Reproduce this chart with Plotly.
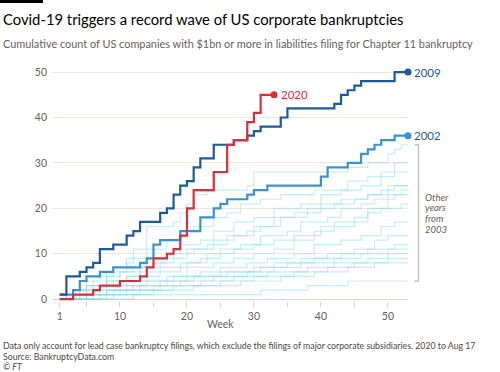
import plotly.graph_objects as go

# ---------------- data (week of year, cumulative count) ----------------
weeks_2020 = [1, 3, 6, 7, 10, 13, 14, 15, 17, 18, 19, 20, 21, 24, 26, 27, 29, 30, 31]
count_2020 = [0, 1, 2, 3, 4, 5, 7, 9, 10, 11, 14, 20, 24, 28, 34, 35, 39, 41, 45]
last_week_2020 = 33

weeks_2009 = [1, 2, 4, 5, 6, 7, 9, 11, 12, 13, 16, 17, 18, 19, 20, 21, 22, 24, 27, 29,
              30, 31, 34, 35, 42, 43, 44, 45, 46, 51]
count_2009 = [1, 5, 6, 7, 8, 11, 12, 14, 15, 17, 19, 20, 23, 25, 26, 29, 31, 34, 35, 36,
              37, 38, 40, 42, 43, 45, 46, 47, 48, 50]

weeks_2002 = [1, 3, 4, 5, 7, 9, 13, 14, 15, 16, 19, 22, 24, 25, 26, 29, 30, 32, 40, 41,
              44, 46, 47, 48, 49, 51]
count_2002 = [1, 2, 4, 5, 6, 7, 8, 9, 12, 13, 15, 18, 20, 21, 22, 23, 24, 25, 27, 29,
              30, 32, 33, 34, 35, 36]

last_week = 53

weeks_2003 = [1, 2, 3, 5, 6, 8, 9, 11, 12, 14, 18, 19, 20, 21, 23, 29, 30, 44, 47, 50, 51, 52]
count_2003 = [0, 1, 2, 3, 4, 6, 7, 9, 11, 16, 17, 19, 21, 23, 24, 25, 28, 29, 30, 32, 33, 34]
weeks_2004 = [1, 2, 4, 5, 7, 9, 11, 12, 14, 17, 19, 21, 24, 26, 28, 31, 34, 39, 44, 47, 49, 51]
count_2004 = [0, 1, 2, 4, 5, 6, 8, 9, 11, 13, 15, 16, 18, 19, 21, 22, 23, 24, 26, 27, 28, 30]
weeks_2005 = [1, 3, 5, 6, 8, 10, 12, 14, 17, 19, 22, 24, 27, 30, 33, 37, 40, 43, 46, 49, 51]
count_2005 = [0, 1, 2, 3, 5, 6, 7, 9, 10, 12, 13, 15, 17, 18, 20, 21, 23, 24, 25, 27, 28]
weeks_2006 = [1, 2, 4, 7, 9, 11, 13, 15, 17, 20, 23, 26, 29, 31, 34, 38, 42, 45, 47, 49, 51]
count_2006 = [0, 1, 2, 3, 4, 5, 7, 8, 9, 11, 12, 14, 15, 16, 18, 20, 21, 22, 23, 24, 25]
weeks_2007 = [1, 3, 6, 8, 10, 13, 16, 18, 21, 24, 27, 30, 33, 36, 40, 43, 47, 50]
count_2007 = [1, 2, 3, 4, 6, 7, 8, 10, 11, 13, 14, 16, 18, 19, 21, 22, 23, 25]
weeks_2008 = [1, 4, 6, 8, 11, 14, 16, 19, 22, 25, 28, 31, 35, 37, 41, 43, 46, 48, 50, 52]
count_2008 = [0, 1, 2, 3, 4, 5, 6, 8, 9, 11, 12, 14, 15, 17, 18, 20, 21, 22, 23, 24]
weeks_2010 = [1, 3, 5, 8, 11, 13, 16, 20, 23, 27, 30, 33, 36, 40, 42, 45, 47, 50, 51]
count_2010 = [0, 1, 3, 4, 5, 6, 7, 8, 10, 11, 12, 13, 14, 16, 17, 18, 20, 22, 23]
weeks_2011 = [1, 5, 8, 10, 13, 17, 20, 24, 27, 30, 33, 36, 39, 42, 45, 47, 49, 52]
count_2011 = [0, 1, 2, 3, 4, 5, 7, 8, 9, 10, 11, 13, 15, 16, 17, 19, 20, 21]
weeks_2012 = [1, 4, 7, 11, 14, 18, 22, 25, 29, 32, 36, 39, 43, 46, 49, 51]
count_2012 = [0, 1, 2, 3, 4, 5, 6, 7, 8, 9, 10, 12, 13, 14, 16, 17]
weeks_2013 = [1, 6, 9, 13, 17, 21, 26, 30, 33, 37, 41, 45, 48, 50]
count_2013 = [0, 1, 2, 3, 4, 5, 6, 7, 8, 9, 10, 11, 13, 14]
weeks_2014 = [1, 3, 8, 12, 16, 20, 25, 31, 35, 39, 43, 47, 51]
count_2014 = [0, 1, 2, 3, 4, 5, 6, 7, 8, 9, 10, 11, 12]
weeks_2015 = [1, 7, 10, 15, 19, 24, 29, 33, 37, 42, 46, 50]
count_2015 = [0, 1, 2, 3, 4, 5, 6, 7, 8, 9, 10, 11]
weeks_2016 = [1, 5, 11, 16, 22, 27, 32, 38, 42, 47, 50]
count_2016 = [0, 1, 2, 3, 4, 5, 6, 7, 8, 9, 10]
weeks_2017 = [1, 8, 13, 18, 25, 30, 36, 41, 45, 50]
count_2017 = [0, 1, 2, 3, 4, 5, 6, 7, 8, 9]
weeks_2018 = [1, 9, 15, 21, 28, 34, 39, 44, 48]
count_2018 = [0, 1, 2, 3, 4, 5, 6, 7, 8]
weeks_2019 = [1, 12, 31, 38, 44]
count_2019 = [0, 1, 2, 3, 4]

other_years = [
    (weeks_2003, count_2003), (weeks_2004, count_2004), (weeks_2005, count_2005),
    (weeks_2006, count_2006), (weeks_2007, count_2007), (weeks_2008, count_2008),
    (weeks_2010, count_2010), (weeks_2011, count_2011), (weeks_2012, count_2012),
    (weeks_2013, count_2013), (weeks_2014, count_2014), (weeks_2015, count_2015),
    (weeks_2016, count_2016), (weeks_2017, count_2017), (weeks_2018, count_2018),
    (weeks_2019, count_2019),
]

x_tick_vals = [1, 5, 10, 15, 20, 25, 30, 35, 40, 45, 50]
x_tick_text = ["1", "", "10", "", "20", "", "30", "", "40", "", "50"]
y_tick_vals = [0, 10, 20, 30, 40, 50]

# ---------------- styling ----------------
FONT = "Lato"
GREY = "#66605c"
RED = "#d6303f"
DARK = "#1d5a9c"
MID = "#3a92d2"
LIGHT = "rgba(130, 216, 236, 0.45)"

W, H = 500, 372
ML, MR, MT, MB = 53, 92, 63, 71
PW, PH = W - ML - MR, H - MT - MB


def px(xp):
    return (xp - ML) / PW


def py(yp):
    return (H - MB - yp) / PH


def steps(weeks, counts, end):
    return list(weeks) + [end], list(counts) + [counts[-1]]


fig = go.Figure()

for wk, ct in other_years:
    xs, ys = steps(wk, ct, last_week)
    fig.add_trace(go.Scatter(x=xs, y=ys, mode="lines", line_shape="hv",
                             line=dict(color=LIGHT, width=1.2), hoverinfo="skip"))

for wk, ct, end, col in [(weeks_2002, count_2002, last_week, MID),
                         (weeks_2009, count_2009, last_week, DARK),
                         (weeks_2020, count_2020, last_week_2020, RED)]:
    xs, ys = steps(wk, ct, end)
    fig.add_trace(go.Scatter(x=xs, y=ys, mode="lines", line_shape="hv",
                             line=dict(color=col, width=2.2)))
    fig.add_trace(go.Scatter(x=[xs[-1]], y=[ys[-1]], mode="markers", cliponaxis=False,
                             marker=dict(color=col, size=7)))

FOOT = "#4d4845"
annotations = [
    dict(text="Covid-19 triggers a record wave of US corporate bankruptcies",
         x=px(1), y=py(19), xref="paper", yref="paper", xanchor="left", yanchor="middle",
         showarrow=False, font=dict(family=FONT, size=14.8, color="#000000")),
    dict(text="Cumulative count of US companies with $1bn or more in liabilities filing for Chapter 11 bankruptcy",
         x=px(1), y=py(43), xref="paper", yref="paper", xanchor="left", yanchor="middle",
         showarrow=False, font=dict(family=FONT, size=10.9, color=GREY)),
    dict(text="Week", x=px(220), y=py(324), xref="paper", yref="paper", xanchor="center",
         yanchor="middle", showarrow=False, font=dict(family=FONT, size=10.5, color=GREY)),
    dict(text="Data only account for lead case bankruptcy filings, which exclude the filings of major corporate subsidiaries. 2020 to Aug 17",
         x=px(1), y=py(345), xref="paper", yref="paper", xanchor="left", yanchor="middle",
         showarrow=False, font=dict(family=FONT, size=8.75, color=FOOT)),
    dict(text="Source: BankruptcyData.com",
         x=px(1), y=py(356), xref="paper", yref="paper", xanchor="left", yanchor="middle",
         showarrow=False, font=dict(family=FONT, size=8.75, color=FOOT)),
    dict(text="<i>© FT</i>",
         x=px(1), y=py(366), xref="paper", yref="paper", xanchor="left", yanchor="middle",
         showarrow=False, font=dict(family=FONT, size=8.75, color=FOOT)),
    dict(text="2020", x=last_week_2020, y=count_2020[-1], xref="x", yref="y",
         xanchor="left", yanchor="middle", xshift=5, showarrow=False,
         font=dict(family=FONT, size=11.5, color=RED)),
    dict(text="2009", x=1, y=count_2009[-1], xref="paper", yref="y",
         xanchor="left", yanchor="middle", xshift=4, showarrow=False,
         font=dict(family=FONT, size=11.5, color=DARK)),
    dict(text="2002", x=1, y=count_2002[-1], xref="paper", yref="y",
         xanchor="left", yanchor="middle", xshift=4, showarrow=False,
         font=dict(family=FONT, size=11.5, color=DARK)),
]
for i, word in enumerate(["Other", "years", "from", "2003"]):
    annotations.append(dict(text="<i>" + word + "</i>", x=px(423), y=py(197 + i * 10.8),
                            xref="paper", yref="paper", xanchor="left", yanchor="middle",
                            showarrow=False, font=dict(family=FONT, size=9.5, color=GREY)))

shapes = [
    dict(type="rect", xref="paper", yref="paper", x0=px(0), x1=px(43), y0=py(0), y1=py(3),
         fillcolor="#000000", line=dict(width=0)),
    dict(type="path", xref="paper", yref="y",
         path=f"M {px(414.5)} {count_2003[-1]} L {px(418.5)} {count_2003[-1]} "
              f"L {px(418.5)} {count_2019[-1]} L {px(414.5)} {count_2019[-1]}",
         line=dict(color="#c4c4c4", width=1.5)),
]

fig.update_layout(
    width=W, height=H, margin=dict(l=ML, r=MR, t=MT, b=MB, pad=0),
    paper_bgcolor="white", plot_bgcolor="white", showlegend=False,
    annotations=annotations, shapes=shapes,
    font=dict(family=FONT, color=GREY),
    xaxis=dict(range=[0, 53], tickvals=x_tick_vals, ticktext=x_tick_text,
               showgrid=False, zeroline=False, showline=False,
               ticks="outside", ticklen=5, tickcolor="#ddd3ca", tickwidth=1,
               tickfont=dict(family=FONT, size=10.5, color=GREY)),
    yaxis=dict(range=[-0.4, 52], tickvals=y_tick_vals, showgrid=True,
               gridcolor="#efe6de", gridwidth=1, zeroline=True,
               zerolinecolor="#ddd3ca", zerolinewidth=1, showline=False, ticks="",
               ticklabelstandoff=5,
               tickfont=dict(family=FONT, size=10.5, color=GREY)),
)

fig.write_html("out.html", config={"displayModeBar": False},
               post_script="document.body.style.margin='0';")
